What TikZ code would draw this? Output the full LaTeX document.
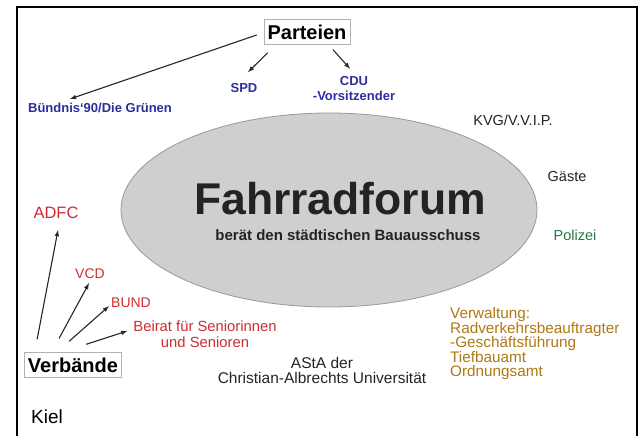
\documentclass[tikz,border=0pt]{standalone}
\usepackage{fontspec}
\setmainfont{Liberation Sans}
\usepackage{tikz}
\definecolor{partyblue}{RGB}{45,45,160}
\definecolor{assocred}{RGB}{205,45,50}
\definecolor{policegreen}{RGB}{35,120,70}
\definecolor{adminolive}{RGB}{175,120,20}
\definecolor{textdark}{RGB}{35,35,35}
\newcommand\fsz[2]{\fontsize{#1}{#2}\selectfont}

\begin{document}
\begin{tikzpicture}[x=1pt, y=-1pt,
    lbl/.style={inner sep=0pt, text=textdark},
    party/.style={lbl, text=partyblue, font=\fsz{13}{15}\bfseries},
    assoc/.style={lbl, text=assocred},
    boxed/.style={draw=black!30, line width=0.7pt, inner xsep=3.5pt, inner ysep=5pt, font=\fsz{20}{22}\bfseries},
    pf/.style={-latex, line width=1.1pt, draw=black!85}]
              \useasboundingbox (0, 0) rectangle (639, 436);
              \draw[line width=2.5pt] (17, 436) |- (637, 7) -- (637, 436);
              \draw[fill=black!19, draw=black!40, line width=0.8pt] (329, 210) ellipse [x radius=208pt, y radius=97pt];

              \node[lbl, font=\fsz{44.5}{48}\bfseries] (F) at (340, 199) {Fahrradforum};
              \node[lbl, font=\fsz{15}{16}\bfseries] (Sub) at (348, 235) {berät den städtischen Bauausschuss};

              \node[boxed] (P)  at (307,  32) {Parteien};
              \node[boxed] (V)  at ( 73, 365) {Verbände};

              \node[party] (Bg) at (100, 108) {Bündnis`90/Die Grünen};
              \node[party] (S)  at (244,  88) {SPD};
              \node[party, align=center] (C) at (354, 89) {CDU\\-Vorsitzender};

              \node[lbl, font=\fsz{14.5}{16}] (K)  at (513, 120) {KVG/V.V.I.P.};
              \node[lbl, font=\fsz{14.5}{16}] (G)  at (567, 177) {Gäste};
              \node[lbl, font=\fsz{14.5}{16}, text=policegreen] (Po) at (575, 235) {Polizei};
              \node[lbl, font=\fsz{15.3}{14.5}, text=adminolive, align=left, anchor=west] (Vw) at (450, 344)
                {Verwaltung:\\Radverkehrsbeauftragter\\-Geschäftsführung\\Tiefbauamt\\Ordnungsamt};
              \node[lbl, font=\fsz{15.5}{15}, align=center] (As) at (322, 370) {AStA der\\Christian-Albrechts Universität};
              \node[lbl, font=\fsz{19}{20}, text=black] (Ki) at (47, 417) {Kiel};

              \node[assoc, font=\fsz{16.5}{18}] (A)  at ( 56, 213) {ADFC};
              \node[assoc, font=\fsz{14}{16}] (Vc) at ( 90, 274) {VCD};
              \node[assoc, font=\fsz{14}{16}] (Bu) at (131, 303) {BUND};
              \node[assoc, font=\fsz{14.8}{16}, align=center] (Br) at (205, 334) {Beirat für Seniorinnen\\und Senioren};

              \draw[pf] ([shift={(-7pt,-3pt)}]P.west)        to ([shift={(-30pt,4pt)}]Bg.north);
              \draw[pf] ([shift={(4pt,-8pt)}]P.south west)   to ([shift={(4pt,11pt)}]S.north);
              \draw[pf] ([shift={(26pt,-5pt)}]P.south)       to ([shift={(-4pt,8pt)}]C.north);
              \draw[pf] ([shift={(13pt,13pt)}]V.north west)  to ([shift={(2pt,-11pt)}]A.south);
              \draw[pf] ([shift={(35pt,14pt)}]V.north west)  to ([shift={(-1pt,-4pt)}]Vc.south);
              \draw[pf] ([shift={(45pt,11pt)}]V.north west)  to ([shift={(-2pt,2pt)}]Bu.south west);
              \draw[pf] ([shift={(62pt,8pt)}]V.north west)   to ([shift={(-6pt,3pt)}]Br.west);
            \end{tikzpicture}
\end{document}
